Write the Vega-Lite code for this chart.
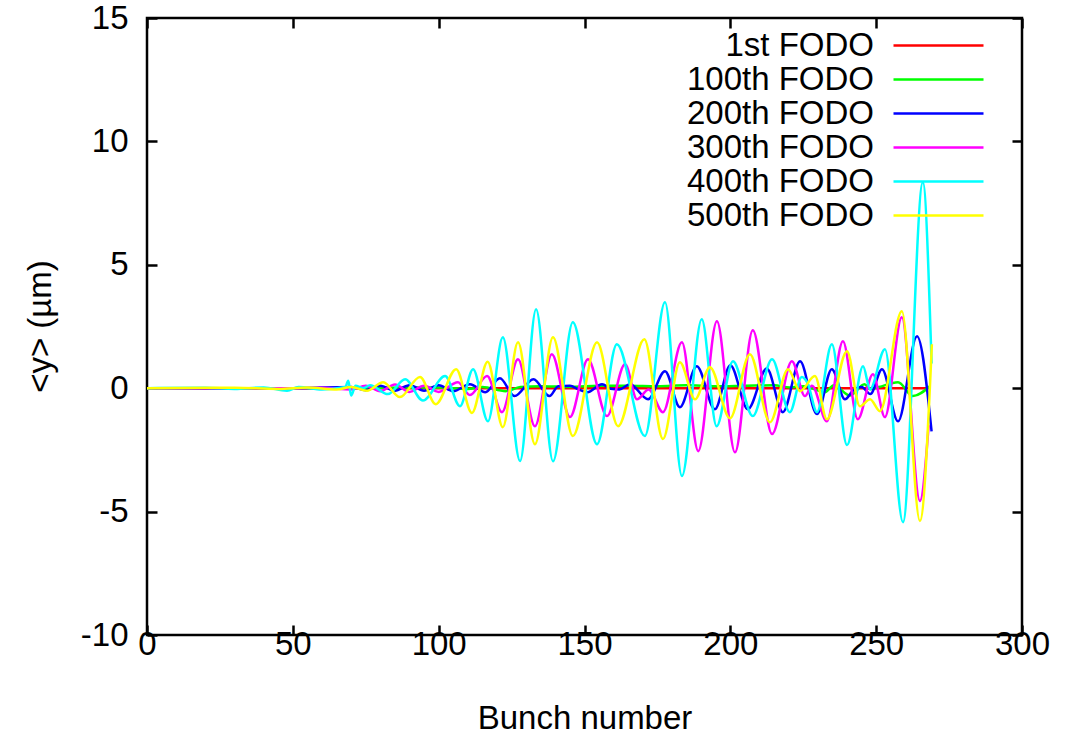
{
 "$schema": "https://vega.github.io/schema/vega-lite/v6.json",
 "width": 875,
 "height": 617,
 "autosize": {"type": "none"},
 "padding": {"left": 147, "top": 18, "right": 48, "bottom": 99},
 "background": "white",
 "config": {
  "view": {"stroke": "black", "strokeWidth": 2.5},
  "font": "Liberation Sans",
  "axis": {"grid": false, "domain": false, "tickColor": "black", "tickWidth": 2.5, "tickSize": -10, "labelFont": "Liberation Sans", "labelFontSize": 33, "labelColor": "black", "labelFlush": false, "titleFont": "Liberation Sans", "titleFontSize": 33, "titleFontWeight": "normal", "titleColor": "black"},
  "legend": {"labelFont": "Liberation Sans", "labelFontSize": 33, "labelColor": "black", "labelLimit": 500}
 },
 "data": {"values": [
  {"series": "1st FODO", "bunch": 0, "y": 0},
  {"series": "1st FODO", "bunch": 50, "y": 0},
  {"series": "1st FODO", "bunch": 100, "y": 0},
  {"series": "1st FODO", "bunch": 150, "y": 0},
  {"series": "1st FODO", "bunch": 200, "y": 0},
  {"series": "1st FODO", "bunch": 250, "y": 0},
  {"series": "1st FODO", "bunch": 268, "y": 0},

  {"series": "100th FODO", "bunch": 0, "y": 0},
  {"series": "100th FODO", "bunch": 60, "y": 0},
  {"series": "100th FODO", "bunch": 80, "y": 0.02},
  {"series": "100th FODO", "bunch": 100, "y": 0.03},
  {"series": "100th FODO", "bunch": 110, "y": -0.03},
  {"series": "100th FODO", "bunch": 115, "y": 0.05},
  {"series": "100th FODO", "bunch": 123, "y": -0.12},
  {"series": "100th FODO", "bunch": 128, "y": 0.05},
  {"series": "100th FODO", "bunch": 135, "y": 0.08},
  {"series": "100th FODO", "bunch": 145, "y": 0.05},
  {"series": "100th FODO", "bunch": 155, "y": 0.1},
  {"series": "100th FODO", "bunch": 165, "y": 0.1},
  {"series": "100th FODO", "bunch": 175, "y": 0.08},
  {"series": "100th FODO", "bunch": 185, "y": 0.12},
  {"series": "100th FODO", "bunch": 195, "y": 0.08},
  {"series": "100th FODO", "bunch": 205, "y": 0.1},
  {"series": "100th FODO", "bunch": 215, "y": 0.12},
  {"series": "100th FODO", "bunch": 220.4, "y": 0.03},
  {"series": "100th FODO", "bunch": 225, "y": 0.08},
  {"series": "100th FODO", "bunch": 232.4, "y": -0.16},
  {"series": "100th FODO", "bunch": 235.5, "y": 0.12},
  {"series": "100th FODO", "bunch": 241, "y": -0.3},
  {"series": "100th FODO", "bunch": 246, "y": 0.16},
  {"series": "100th FODO", "bunch": 248, "y": -0.04},
  {"series": "100th FODO", "bunch": 251, "y": 0.05},
  {"series": "100th FODO", "bunch": 257.5, "y": 0.24},
  {"series": "100th FODO", "bunch": 262.6, "y": -0.32},
  {"series": "100th FODO", "bunch": 268.4, "y": 0.08},

  {"series": "200th FODO", "bunch": 0, "y": 0},
  {"series": "200th FODO", "bunch": 50, "y": 0},
  {"series": "200th FODO", "bunch": 70, "y": 0.05},
  {"series": "200th FODO", "bunch": 75, "y": -0.08},
  {"series": "200th FODO", "bunch": 80, "y": 0.1},
  {"series": "200th FODO", "bunch": 85, "y": -0.1},
  {"series": "200th FODO", "bunch": 90, "y": 0.12},
  {"series": "200th FODO", "bunch": 95, "y": -0.1},
  {"series": "200th FODO", "bunch": 100, "y": 0.12},
  {"series": "200th FODO", "bunch": 105, "y": -0.12},
  {"series": "200th FODO", "bunch": 110.7, "y": 0.16},
  {"series": "200th FODO", "bunch": 116, "y": -0.16},
  {"series": "200th FODO", "bunch": 121, "y": 0.4},
  {"series": "200th FODO", "bunch": 126, "y": -0.32},
  {"series": "200th FODO", "bunch": 132.5, "y": 0.36},
  {"series": "200th FODO", "bunch": 138, "y": -0.32},
  {"series": "200th FODO", "bunch": 141, "y": 0.08},
  {"series": "200th FODO", "bunch": 145, "y": 0.1},
  {"series": "200th FODO", "bunch": 148, "y": -0.05},
  {"series": "200th FODO", "bunch": 151, "y": -0.16},
  {"series": "200th FODO", "bunch": 156, "y": 0.16},
  {"series": "200th FODO", "bunch": 159, "y": -0.02},
  {"series": "200th FODO", "bunch": 162, "y": -0.05},
  {"series": "200th FODO", "bunch": 165.6, "y": 0.16},
  {"series": "200th FODO", "bunch": 171.8, "y": -0.45},
  {"series": "200th FODO", "bunch": 177.6, "y": 0.69},
  {"series": "200th FODO", "bunch": 182.7, "y": -0.77},
  {"series": "200th FODO", "bunch": 188.5, "y": 0.89},
  {"series": "200th FODO", "bunch": 194.7, "y": -0.85},
  {"series": "200th FODO", "bunch": 200, "y": 0.93},
  {"series": "200th FODO", "bunch": 206, "y": -0.85},
  {"series": "200th FODO", "bunch": 212.5, "y": 0.8},
  {"series": "200th FODO", "bunch": 218, "y": -0.97},
  {"series": "200th FODO", "bunch": 223.9, "y": 1.09},
  {"series": "200th FODO", "bunch": 229.7, "y": -1.05},
  {"series": "200th FODO", "bunch": 234.8, "y": 0.77},
  {"series": "200th FODO", "bunch": 239.3, "y": -0.45},
  {"series": "200th FODO", "bunch": 242, "y": -0.1},
  {"series": "200th FODO", "bunch": 245, "y": 0.05},
  {"series": "200th FODO", "bunch": 248, "y": -0.24},
  {"series": "200th FODO", "bunch": 252, "y": 0.77},
  {"series": "200th FODO", "bunch": 257.5, "y": -1.34},
  {"series": "200th FODO", "bunch": 264, "y": 2.1},
  {"series": "200th FODO", "bunch": 269, "y": -1.75},

  {"series": "300th FODO", "bunch": 0, "y": 0},
  {"series": "300th FODO", "bunch": 50, "y": 0},
  {"series": "300th FODO", "bunch": 60, "y": 0.02},
  {"series": "300th FODO", "bunch": 70, "y": -0.05},
  {"series": "300th FODO", "bunch": 75, "y": 0.1},
  {"series": "300th FODO", "bunch": 80, "y": -0.12},
  {"series": "300th FODO", "bunch": 85, "y": 0.15},
  {"series": "300th FODO", "bunch": 90, "y": -0.15},
  {"series": "300th FODO", "bunch": 95, "y": 0.1},
  {"series": "300th FODO", "bunch": 100, "y": -0.15},
  {"series": "300th FODO", "bunch": 106.6, "y": 0.24},
  {"series": "300th FODO", "bunch": 110.7, "y": -0.28},
  {"series": "300th FODO", "bunch": 116.6, "y": 0.49},
  {"series": "300th FODO", "bunch": 121.7, "y": -0.97},
  {"series": "300th FODO", "bunch": 127.2, "y": 1.17},
  {"series": "300th FODO", "bunch": 133, "y": -1.54},
  {"series": "300th FODO", "bunch": 138.8, "y": 1.38},
  {"series": "300th FODO", "bunch": 145, "y": -1.17},
  {"series": "300th FODO", "bunch": 151.2, "y": 1.17},
  {"series": "300th FODO", "bunch": 157.7, "y": -1.13},
  {"series": "300th FODO", "bunch": 163.9, "y": 0.97},
  {"series": "300th FODO", "bunch": 168, "y": -0.45},
  {"series": "300th FODO", "bunch": 172, "y": -0.05},
  {"series": "300th FODO", "bunch": 176.9, "y": -0.97},
  {"series": "300th FODO", "bunch": 183.4, "y": 1.86},
  {"series": "300th FODO", "bunch": 189, "y": -2.55},
  {"series": "300th FODO", "bunch": 195.4, "y": 2.71},
  {"series": "300th FODO", "bunch": 201.6, "y": -2.6},
  {"series": "300th FODO", "bunch": 207.7, "y": 2.35},
  {"series": "300th FODO", "bunch": 214.3, "y": -1.86},
  {"series": "300th FODO", "bunch": 221.1, "y": 1.09},
  {"series": "300th FODO", "bunch": 225.6, "y": -0.32},
  {"series": "300th FODO", "bunch": 228, "y": 0.1},
  {"series": "300th FODO", "bunch": 233.1, "y": -1.34},
  {"series": "300th FODO", "bunch": 238.6, "y": 1.9},
  {"series": "300th FODO", "bunch": 243.7, "y": -1.26},
  {"series": "300th FODO", "bunch": 248.9, "y": 0.57},
  {"series": "300th FODO", "bunch": 253, "y": -1.17},
  {"series": "300th FODO", "bunch": 258.8, "y": 2.87},
  {"series": "300th FODO", "bunch": 265, "y": -4.57},
  {"series": "300th FODO", "bunch": 268, "y": -1.5},

  {"series": "400th FODO", "bunch": 0, "y": 0},
  {"series": "400th FODO", "bunch": 20, "y": 0.02},
  {"series": "400th FODO", "bunch": 30, "y": -0.03},
  {"series": "400th FODO", "bunch": 40, "y": 0.03},
  {"series": "400th FODO", "bunch": 48, "y": -0.1},
  {"series": "400th FODO", "bunch": 52, "y": 0.05},
  {"series": "400th FODO", "bunch": 60, "y": -0.05},
  {"series": "400th FODO", "bunch": 68, "y": 0.05},
  {"series": "400th FODO", "bunch": 69, "y": 0.3},
  {"series": "400th FODO", "bunch": 70, "y": -0.3},
  {"series": "400th FODO", "bunch": 71.5, "y": 0.1},
  {"series": "400th FODO", "bunch": 74, "y": 0},
  {"series": "400th FODO", "bunch": 76.5, "y": 0.12},
  {"series": "400th FODO", "bunch": 82.6, "y": -0.24},
  {"series": "400th FODO", "bunch": 88.5, "y": 0.36},
  {"series": "400th FODO", "bunch": 94.6, "y": -0.5},
  {"series": "400th FODO", "bunch": 102.2, "y": 0.49},
  {"series": "400th FODO", "bunch": 107.3, "y": -0.73},
  {"series": "400th FODO", "bunch": 111.8, "y": 0.77},
  {"series": "400th FODO", "bunch": 116.9, "y": -1.34},
  {"series": "400th FODO", "bunch": 122, "y": 2.06},
  {"series": "400th FODO", "bunch": 127.9, "y": -2.95},
  {"series": "400th FODO", "bunch": 133.4, "y": 3.2},
  {"series": "400th FODO", "bunch": 139.2, "y": -2.96},
  {"series": "400th FODO", "bunch": 146, "y": 2.67},
  {"series": "400th FODO", "bunch": 154.3, "y": -2.27},
  {"series": "400th FODO", "bunch": 161.1, "y": 1.78},
  {"series": "400th FODO", "bunch": 170.7, "y": -1.94},
  {"series": "400th FODO", "bunch": 177.6, "y": 3.48},
  {"series": "400th FODO", "bunch": 183.4, "y": -3.56},
  {"series": "400th FODO", "bunch": 190.2, "y": 2.79},
  {"series": "400th FODO", "bunch": 195.3, "y": -1.54},
  {"series": "400th FODO", "bunch": 200.9, "y": 1.09},
  {"series": "400th FODO", "bunch": 207.7, "y": -1.13},
  {"series": "400th FODO", "bunch": 214.3, "y": 1.17},
  {"series": "400th FODO", "bunch": 220.4, "y": -0.97},
  {"series": "400th FODO", "bunch": 224.5, "y": 0.45},
  {"series": "400th FODO", "bunch": 226.5, "y": 0.2},
  {"series": "400th FODO", "bunch": 229.7, "y": -0.97},
  {"series": "400th FODO", "bunch": 234.8, "y": 1.78},
  {"series": "400th FODO", "bunch": 240, "y": -2.3},
  {"series": "400th FODO", "bunch": 245.5, "y": 0.89},
  {"series": "400th FODO", "bunch": 247.9, "y": -0.04},
  {"series": "400th FODO", "bunch": 253, "y": 1.58},
  {"series": "400th FODO", "bunch": 259.2, "y": -5.43},
  {"series": "400th FODO", "bunch": 266, "y": 8.34},
  {"series": "400th FODO", "bunch": 269, "y": 1.0},

  {"series": "500th FODO", "bunch": 0, "y": 0},
  {"series": "500th FODO", "bunch": 30, "y": 0.02},
  {"series": "500th FODO", "bunch": 45, "y": -0.03},
  {"series": "500th FODO", "bunch": 55, "y": 0.03},
  {"series": "500th FODO", "bunch": 65, "y": -0.05},
  {"series": "500th FODO", "bunch": 70, "y": 0.05},
  {"series": "500th FODO", "bunch": 75.4, "y": -0.1},
  {"series": "500th FODO", "bunch": 81, "y": 0.24},
  {"series": "500th FODO", "bunch": 86.7, "y": -0.36},
  {"series": "500th FODO", "bunch": 93.6, "y": 0.45},
  {"series": "500th FODO", "bunch": 99, "y": -0.65},
  {"series": "500th FODO", "bunch": 106, "y": 0.77},
  {"series": "500th FODO", "bunch": 111.4, "y": -1.0},
  {"series": "500th FODO", "bunch": 116.8, "y": 1.07},
  {"series": "500th FODO", "bunch": 122, "y": -1.58},
  {"series": "500th FODO", "bunch": 127.2, "y": 1.86},
  {"series": "500th FODO", "bunch": 133, "y": -2.27},
  {"series": "500th FODO", "bunch": 139.2, "y": 2.06},
  {"series": "500th FODO", "bunch": 146, "y": -1.94},
  {"series": "500th FODO", "bunch": 154.3, "y": 1.86},
  {"series": "500th FODO", "bunch": 161.5, "y": -1.54},
  {"series": "500th FODO", "bunch": 170.5, "y": 1.98},
  {"series": "500th FODO", "bunch": 176.9, "y": -2.06},
  {"series": "500th FODO", "bunch": 182.7, "y": 1.05},
  {"series": "500th FODO", "bunch": 187.9, "y": -0.45},
  {"series": "500th FODO", "bunch": 193, "y": 0.85},
  {"series": "500th FODO", "bunch": 199.9, "y": -1.22},
  {"series": "500th FODO", "bunch": 206.7, "y": 1.38},
  {"series": "500th FODO", "bunch": 213.6, "y": -1.38},
  {"series": "500th FODO", "bunch": 219.8, "y": 0.77},
  {"series": "500th FODO", "bunch": 223.9, "y": -0.12},
  {"series": "500th FODO", "bunch": 229, "y": 0.49},
  {"series": "500th FODO", "bunch": 233.1, "y": -1.26},
  {"series": "500th FODO", "bunch": 240, "y": 1.5},
  {"series": "500th FODO", "bunch": 244.4, "y": -0.73},
  {"series": "500th FODO", "bunch": 247.9, "y": -0.45},
  {"series": "500th FODO", "bunch": 251.3, "y": -0.93},
  {"series": "500th FODO", "bunch": 258.8, "y": 3.12},
  {"series": "500th FODO", "bunch": 265, "y": -5.38},
  {"series": "500th FODO", "bunch": 269.1, "y": 1.78}
 ]},
 "layer": [
  {
   "mark": {"type": "line", "strokeWidth": 2.5, "interpolate": "monotone"},
   "encoding": {
    "x": {"field": "bunch", "type": "quantitative", "scale": {"domain": [0, 300], "nice": false, "zero": false},
          "axis": {"orient": "bottom", "values": [0, 50, 100, 150, 200, 250, 300], "title": "Bunch number", "labelPadding": 3, "titleX": 437.5, "titleY": 83, "titleBaseline": "middle"}},
    "y": {"field": "y", "type": "quantitative", "scale": {"domain": [-10, 15], "nice": false, "zero": false},
          "axis": {"orient": "left", "values": [-10, -5, 0, 5, 10, 15], "title": "<y> (µm)", "labelExpr": "'' + datum.value", "labelPadding": 29, "titleX": -107, "titleY": 308, "titleBaseline": "middle", "titleAngle": -90}},
    "color": {"field": "series", "type": "nominal",
              "scale": {"domain": ["1st FODO", "100th FODO", "200th FODO", "300th FODO", "400th FODO", "500th FODO"], "range": ["#ff0000", "#00ff00", "#0000ff", "#ff00ff", "#00ffff", "#ffff00"]},
              "legend": {"title": null, "orient": "none", "legendX": 775, "legendY": 11, "padding": 0, "symbolType": "M-5,0H5", "symbolSize": 324, "symbolStrokeWidth": 2.5, "symbolOffset": 0, "rowPadding": -2, "labelAlign": "right", "labelOffset": -81, "labelBaseline": "middle"}}
   }
  },
  {
   "mark": {"type": "line", "strokeOpacity": 0},
   "encoding": {
    "x": {"field": "bunch", "type": "quantitative", "axis": {"orient": "top", "values": [0, 50, 100, 150, 200, 250, 300], "labels": false, "title": null}},
    "y": {"field": "y", "type": "quantitative", "axis": {"orient": "right", "values": [-10, -5, 0, 5, 10, 15], "labels": false, "title": null}},
    "detail": {"field": "series"}
   }
  }
 ],
 "resolve": {"axis": {"x": "independent", "y": "independent"}}
}
